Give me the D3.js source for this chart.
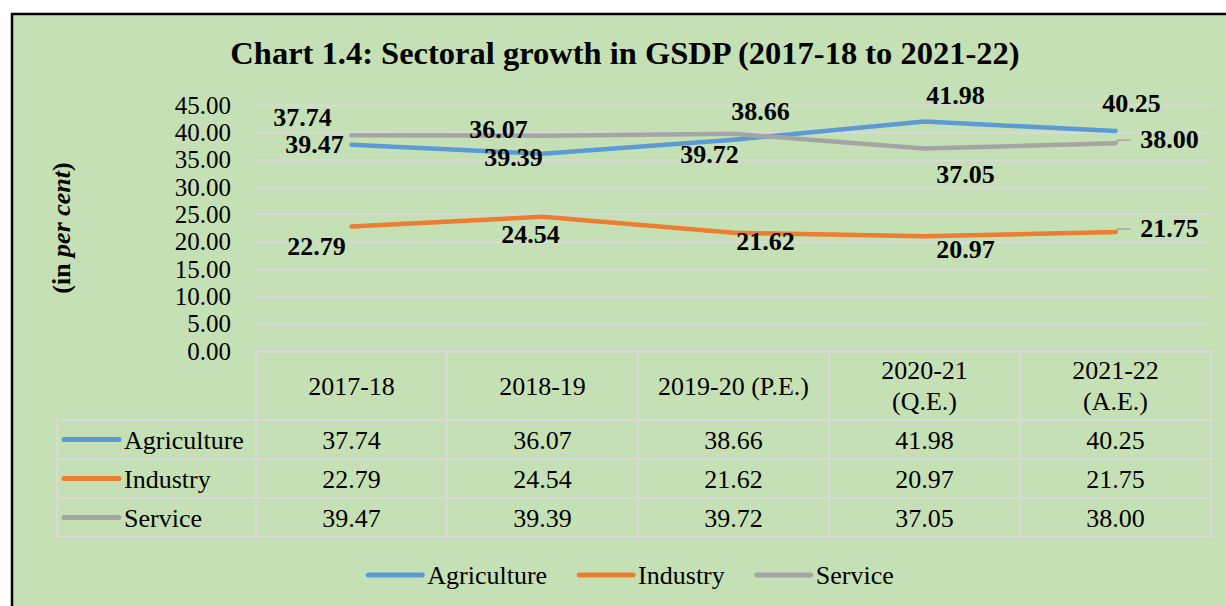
<!DOCTYPE html>
<html>
<head>
<meta charset="utf-8">
<script src="https://cdn.jsdelivr.net/npm/d3@7"></script>
<style>
    body { margin: 0; background: #fff; }
    svg text { font-family: "Liberation Serif", "Times New Roman", serif; fill: #000; }
</style>
</head>
<body>
<div id="chart-area"></div>
<script>

    // data
    var headerLines = [['2017-18'], ['2018-19'], ['2019-20 (P.E.)'], ['2020-21', '(Q.E.)'], ['2021-22', '(A.E.)']];
    var seriesNames = ['Agriculture', 'Industry', 'Service'];
    var agriculture = [37.74, 36.07, 38.66, 41.98, 40.25];
    var industry = [22.79, 24.54, 21.62, 20.97, 21.75];
    var service = [39.47, 39.39, 39.72, 37.05, 38.00];
    var yTicks = [0, 5, 10, 15, 20, 25, 30, 35, 40, 45];

    var def = {
        width: 1226,
        height: 606,
        left: 256,
        right: 1211,
        top: 105,     // y of 45
        bottom: 351,  // y of 0
        headH: 69,
        rowH: 39,
        grid: '#D9D9D9',
        bg: '#C5E0B4',
        font: '"Liberation Serif", "Times New Roman", serif'
    };
    var colors = ['#5B9BD5', '#ED7D31', '#A5A5A5'];
    var values = [agriculture, industry, service];

    // label nudges (dx, dy to baseline) for the data labels, per series
    var labelNudge = [
        [[-49, -19], [-44, -16], [27, -20], [31, -18], [16, -19]],
        [[-35, 29], [-12, 26], [32, 17], [41, 22], [54, 5]],
        [[-37, 18], [-29, 30], [-24, 29], [41, 35], [54, 5]]
    ];

    var svg = d3.select('#chart-area').append('svg')
        .attr('width', def.width)
        .attr('height', def.height)
        .attr('font-family', def.font);

    // green panel with black frame
    svg.append('rect')
        .attr('x', 12).attr('y', 14)
        .attr('width', 1240).attr('height', 620)
        .attr('fill', def.bg)
        .attr('stroke', '#000')
        .attr('stroke-width', 2.5);

    // title
    svg.append('text')
        .attr('x', 625).attr('y', 64)
        .attr('text-anchor', 'middle')
        .attr('font-size', '32.5px')
        .attr('font-weight', 'bold')
        .text('Chart 1.4: Sectoral growth in GSDP (2017-18 to 2021-22)');

    // y title
    var yLab = svg.append('text')
        .attr('transform', 'translate(70,228) rotate(-90)')
        .attr('text-anchor', 'middle')
        .attr('font-size', '26px')
        .attr('font-weight', 'bold');
    yLab.append('tspan').text('(in ');
    yLab.append('tspan').attr('font-style', 'italic').text('per cent');
    yLab.append('tspan').text(')');

    // scales
    var x = d3.scaleBand()
        .domain(d3.range(headerLines.length))
        .range([def.left, def.right])
        .paddingInner(0)
        .paddingOuter(0);

    var y = d3.scaleLinear()
        .domain([0, 45])
        .range([def.bottom, def.top]);

    // y axis + gridlines
    var yAxis = d3.axisLeft(y)
        .tickValues(yTicks)
        .tickFormat(d3.format('.2f'))
        .tickSizeInner(-(def.right - def.left))
        .tickSizeOuter(0)
        .tickPadding(25);

    var yLeg = svg.append('g')
        .attr('transform', 'translate(' + def.left + ',0)')
        .call(yAxis)
        .attr('font-family', def.font);
    yLeg.select('.domain').remove();
    yLeg.selectAll('line').attr('stroke', def.grid).attr('stroke-width', 2);
    yLeg.selectAll('text')
        .attr('font-size', '25px')
        .attr('fill', '#000');

    // data table under the plot
    var tbl = svg.append('g').attr('class', 'table');
    var rowTop = def.bottom + def.headH;
    var tblBottom = rowTop + def.rowH * seriesNames.length;

    // header cells
    headerLines.forEach(function(lines, i) {
        var cx = x(i) + x.bandwidth() / 2;
        var mid = def.bottom + def.headH / 2;
        lines.forEach(function(l, j) {
            tbl.append('text')
                .attr('x', cx)
                .attr('y', mid - (lines.length - 1) * 31 / 2 + j * 31 + 9)
                .attr('text-anchor', 'middle')
                .attr('font-size', '26px')
                .text(l);
        });
    });

    // rows
    seriesNames.forEach(function(name, r) {
        var mid = rowTop + def.rowH * r + def.rowH / 2;
        tbl.append('line')
            .attr('x1', 64).attr('x2', 119)
            .attr('y1', mid).attr('y2', mid)
            .attr('stroke', colors[r])
            .attr('stroke-width', 5)
            .attr('stroke-linecap', 'round');
        tbl.append('text')
            .attr('x', 124).attr('y', mid + 9)
            .attr('font-size', '26px')
            .text(name);
        values[r].forEach(function(v, i) {
            tbl.append('text')
                .attr('x', x(i) + x.bandwidth() / 2)
                .attr('y', mid + 9)
                .attr('text-anchor', 'middle')
                .attr('font-size', '26px')
                .text(d3.format('.2f')(v));
        });
    });

    // table borders
    var hLines = [[def.left, def.right, def.bottom]];
    for (var r = 0; r <= seriesNames.length; r++) {
        hLines.push([57, def.right, rowTop + def.rowH * r]);
    }
    tbl.selectAll('line.h').data(hLines).enter().append('line')
        .attr('class', 'h')
        .attr('x1', function(d) { return d[0]; })
        .attr('x2', function(d) { return d[1]; })
        .attr('y1', function(d) { return d[2]; })
        .attr('y2', function(d) { return d[2]; })
        .attr('stroke', def.grid).attr('stroke-width', 2);

    var vLines = [[57, rowTop]];
    d3.range(headerLines.length + 1).forEach(function(i) {
        vLines.push([def.left + x.bandwidth() * i, def.bottom]);
    });
    tbl.selectAll('line.v').data(vLines).enter().append('line')
        .attr('class', 'v')
        .attr('x1', function(d) { return d[0]; })
        .attr('x2', function(d) { return d[0]; })
        .attr('y1', function(d) { return d[1]; })
        .attr('y2', tblBottom)
        .attr('stroke', def.grid).attr('stroke-width', 2);

    // series lines
    var line = d3.line()
        .x(function(d, i) { return x(i) + x.bandwidth() / 2; })
        .y(function(d) { return y(d); });

    var g = svg.append('g');
    values.forEach(function(vals, s) {
        g.append('path')
            .datum(vals)
            .attr('d', line)
            .attr('fill', 'none')
            .attr('stroke', colors[s])
            .attr('stroke-width', 4.5)
            .attr('stroke-linecap', 'round')
            .attr('stroke-linejoin', 'round');
    });

    // leader lines for the last labels of industry and service
    [1, 2].forEach(function(s) {
        var n = values[s].length - 1;
        var cx = x(n) + x.bandwidth() / 2;
        var cy = y(values[s][n]);
        g.append('path')
            .attr('d', 'M' + (cx + 2) + ',' + cy + 'V' + (cy - 3) + 'H' + (cx + 15))
            .attr('fill', 'none')
            .attr('stroke', '#A5A5A5')
            .attr('stroke-width', 1.5);
    });

    // data labels
    values.forEach(function(vals, s) {
        g.selectAll('text.lab' + s)
            .data(vals)
            .enter()
            .append('text')
            .attr('class', 'lab' + s)
            .attr('x', function(d, i) { return x(i) + x.bandwidth() / 2 + labelNudge[s][i][0]; })
            .attr('y', function(d, i) { return y(d) + labelNudge[s][i][1]; })
            .attr('text-anchor', 'middle')
            .attr('font-size', '26px')
            .attr('font-weight', 'bold')
            .text(function(d) { return d3.format('.2f')(d); });
    });

    // bottom legend, centred
    var leg = svg.append('g');
    var cursor = 0;
    seriesNames.forEach(function(name, s) {
        var item = leg.append('g').attr('transform', 'translate(' + cursor + ',0)');
        item.append('line')
            .attr('x1', 2).attr('x2', 56)
            .attr('y1', 0).attr('y2', 0)
            .attr('stroke', colors[s])
            .attr('stroke-width', 5)
            .attr('stroke-linecap', 'round');
        var t = item.append('text')
            .attr('x', 61).attr('y', 9)
            .attr('font-size', '26px')
            .text(name);
        cursor += 61 + t.node().getComputedTextLength() + 30;
    });
    var legW = cursor - 30;
    leg.attr('transform', 'translate(' + (630 - legW / 2) + ',575)');

</script>
</body>
</html>
